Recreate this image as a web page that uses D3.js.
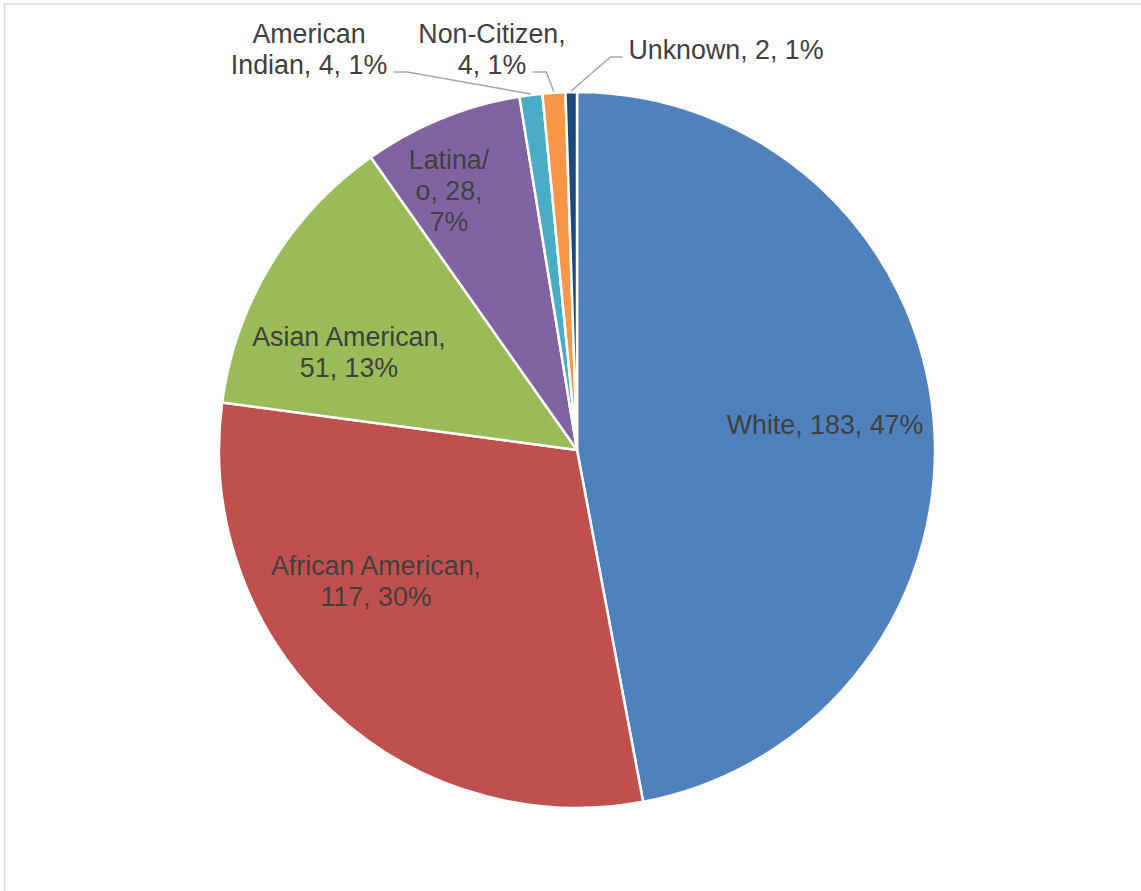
<!DOCTYPE html>
<html>
<head>
<meta charset="utf-8">
<script src="https://cdn.jsdelivr.net/npm/d3@7"></script>
<style>
  html, body { margin: 0; padding: 0; background: #fff; }
  svg { display: block; }
</style>
</head>
<body>
<script>
'use strict';

// chart data
const categories = ["White", "African American", "Asian American", "Latina/o",
                    "American Indian", "Non-Citizen", "Unknown"];
const counts = [183, 117, 51, 28, 4, 4, 2];
const percents = ["47%", "30%", "13%", "7%", "1%", "1%", "1%"];
const labelLines = [
  ["White, 183, 47%"],
  ["African American,", "117, 30%"],
  ["Asian American,", "51, 13%"],
  ["Latina/", "o, 28,", "7%"],
  ["American", "Indian, 4, 1%"],
  ["Non-Citizen,", "4, 1%"],
  ["Unknown, 2, 1%"]
];
const colors = ["#4F81BD", "#C0504D", "#9BBB59", "#8064A2", "#4BACC6", "#F79646", "#1F497D"];

// label layout: offset of label anchor from pie center, and leader side
const labelSpots = [
  {dx: 248, dy: -16},
  {dx: -201, dy: 125},
  {dx: -228, dy: -104},
  {dx: -128, dy: -281},
  {dx: -268, dy: -407, leader: "right"},
  {dx: -85, dy: -407, leader: "right"},
  {dx: 149, dy: -391, leader: "left"}
];

const width = 1141, height = 891;
const cx = 577, cy = 450, radius = 358;
const fontSize = 26.8, lineGap = 31;

const svg = d3.select("body").append("svg")
  .attr("width", width)
  .attr("height", height);

// chart area border (cut off at right and bottom)
svg.append("rect")
  .attr("x", 4.5).attr("y", 4)
  .attr("width", width + 50).attr("height", height + 50)
  .attr("fill", "none")
  .attr("stroke", "#d9d9d9")
  .attr("stroke-width", 1.5);

const pieData = categories.map((c, i) => ({name: c, value: counts[i], idx: i}));

const pie = d3.pie()
  .value(d => d.value)
  .sort(null);

const arcs = pie(pieData);

const arc = d3.arc().innerRadius(0).outerRadius(radius);
const edgeArc = d3.arc().innerRadius(radius + 1).outerRadius(radius + 1);

const g = svg.append("g").attr("transform", `translate(${cx},${cy})`);

g.selectAll("path.slice")
  .data(arcs)
  .enter()
  .append("path")
  .attr("class", "slice")
  .attr("d", arc)
  .attr("fill", d => colors[d.data.idx])
  .attr("stroke", "#ffffff")
  .attr("stroke-width", 2.5)
  .attr("stroke-linejoin", "round");

// labels
const labels = g.selectAll("text.lbl")
  .data(arcs)
  .enter()
  .append("text")
  .attr("class", "lbl")
  .attr("text-anchor", "middle")
  .attr("font-family", "Liberation Sans, Arial, sans-serif")
  .attr("font-size", fontSize)
  .attr("fill", "#404040");

labels.each(function (d) {
  const spot = labelSpots[d.data.idx];
  const lines = labelLines[d.data.idx];
  const t = d3.select(this);
  lines.forEach((ln, k) => {
    t.append("tspan")
      .attr("x", spot.dx)
      .attr("y", spot.dy + k * lineGap)
      .text(ln);
  });
});

// leader lines for small slices
labels.each(function (d) {
  const spot = labelSpots[d.data.idx];
  if (!spot.leader) return;
  const tspans = d3.select(this).selectAll("tspan").nodes();
  const last = tspans[tspans.length - 1];
  const w = last.getComputedTextLength();
  const nLines = tspans.length;
  const y0 = spot.dy + (nLines - 1) * lineGap - 2;
  let x0, x1;
  if (spot.leader === "right") {
    x0 = spot.dx + w / 2 + 6;
    x1 = x0 + 14;
  } else {
    const w0 = tspans[0].getComputedTextLength();
    x0 = spot.dx - w0 / 2 - 6;
    x1 = x0 - 12;
  }
  const p = edgeArc.centroid(d);
  g.append("polyline")
    .attr("points", [[x0, y0], [x1, y0], p].map(q => q.join(",")).join(" "))
    .attr("fill", "none")
    .attr("stroke", "#a6a6a6")
    .attr("stroke-width", 1.5);
});
</script>
</body>
</html>
